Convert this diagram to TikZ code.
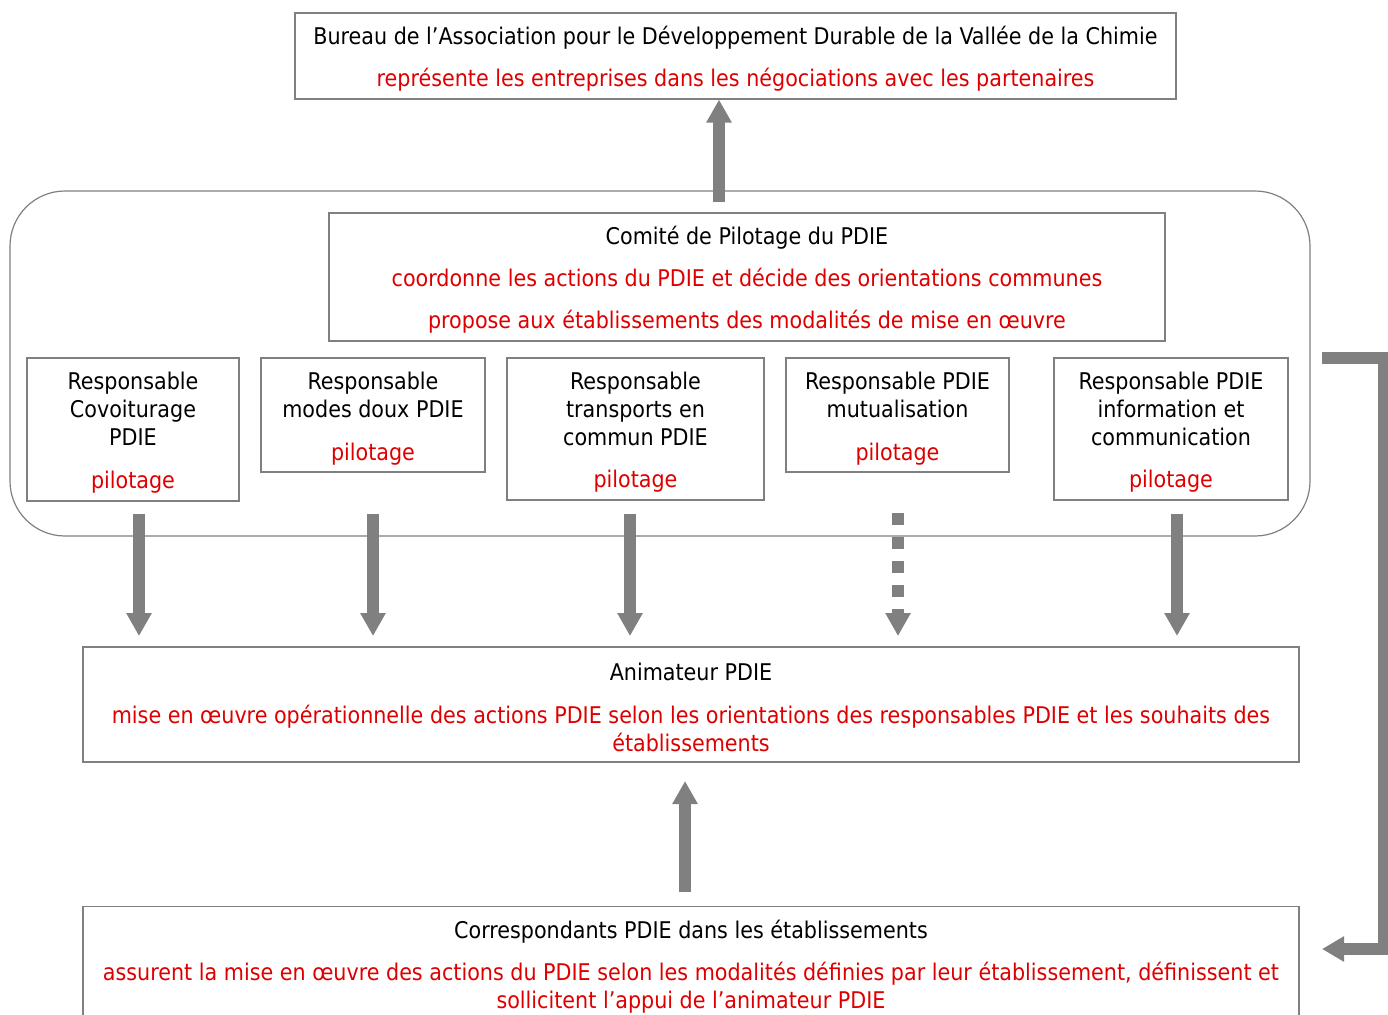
\documentclass[tikz,border=0pt]{standalone}
\usepackage{fontspec}
\setmainfont{DejaVu Sans Condensed}
\usetikzlibrary{arrows.meta}
\definecolor{boxgray}{RGB}{128,128,128}
\definecolor{arrgray}{RGB}{128,128,128}
\definecolor{txtred}{RGB}{222,0,0}
\tikzset{
  box/.style={draw=boxgray, line width=1.2pt, inner sep=0pt, align=center,
    font=\fontsize{23}{28}\selectfont},
  bigarrow/.style={draw=arrgray, line width=12pt,
    -{Triangle[width=24pt,length=23pt]}},
  dasharrow/.style={bigarrow, dash pattern=on 12pt off 12pt}
}
\newcommand{\rd}[1]{\textcolor{txtred}{#1}}
\newcommand{\up}{\rule{0pt}{24pt}}
\begin{document}
\begin{tikzpicture}[x=1pt,y=-1pt]
\useasboundingbox (0,0) rectangle (1388,1014);
\clip (0,0) rectangle (1388,1014);
% group frame
\draw[draw=boxgray, line width=1.2pt, rounded corners=55pt] (10,191) rectangle (1310,536);
\coordinate (grouptop) at (719,202);
% top box
\node[box, minimum width=881pt, minimum height=86pt] (bureau) at (735.5,56)
  {\up Bureau de l’Association pour le Développement Durable de la Vallée de la Chimie\\[14pt]
   \rd{représente les entreprises dans les négociations avec les partenaires}};
% comite
\node[box, minimum width=836pt, minimum height=128pt] (comite) at (747,277)
  {\up Comité de Pilotage du PDIE\\[14pt]
   \rd{coordonne les actions du PDIE et décide des orientations communes}\\[14pt]
   \rd{propose aux établissements des modalités de mise en œuvre}};
% responsables
\node[box, minimum width=212pt, minimum height=143pt] (r1) at (133,429.5)
  {\up Responsable\\Covoiturage\\PDIE\\[15pt]\rd{pilotage}};
\node[box, minimum width=224pt, minimum height=114pt] (r2) at (373,415)
  {\up Responsable\\modes doux PDIE\\[15pt]\rd{pilotage}};
\node[box, minimum width=257pt, minimum height=142pt] (r3) at (635.5,429)
  {\up Responsable\\transports en\\commun PDIE\\[14pt]\rd{pilotage}};
\node[box, minimum width=223pt, minimum height=114pt] (r4) at (897.5,415)
  {\up Responsable PDIE\\mutualisation\\[15pt]\rd{pilotage}};
\node[box, minimum width=234pt, minimum height=142pt] (r5) at (1171,429)
  {\up Responsable PDIE\\information et\\communication\\[14pt]\rd{pilotage}};
% animateur
\node[box, minimum width=1216pt, minimum height=115pt] (anim) at (691,704.5)
  {\up Animateur PDIE\\[15pt]
   \rd{mise en œuvre opérationnelle des actions PDIE selon les orientations des responsables PDIE et les souhaits des}\\
   \rd{établissements}};
% correspondants
\node[box, minimum width=1216pt, minimum height=114pt, anchor=north] (corr) at (691,906)
  {\up Correspondants PDIE dans les établissements\\[14pt]
   \rd{assurent la mise en œuvre des actions du PDIE selon les modalités définies par leur établissement, définissent et}\\
   \rd{sollicitent l’appui de l’animateur PDIE}};
% arrows
\draw[bigarrow] (grouptop) -- (bureau.south -| grouptop);
\coordinate (a1s) at (139,514); \coordinate (a1e) at (139,636);
\coordinate (a2s) at (373,514); \coordinate (a2e) at (373,636);
\coordinate (a3s) at (630,514); \coordinate (a3e) at (630,636);
\coordinate (a4s) at (898,513); \coordinate (a4e) at (898,636);
\coordinate (a5s) at (1177,514); \coordinate (a5e) at (1177,636);
\draw[bigarrow] (a1s) -- (a1e);
\draw[bigarrow] (a2s) -- (a2e);
\draw[bigarrow] (a3s) -- (a3e);
\draw[dasharrow] (a4s) -- (a4e);
\draw[bigarrow] (a5s) -- (a5e);
\coordinate (cup) at (685,892);
\draw[bigarrow] (cup) -- (685,781);
% feedback connector
\coordinate (fbs) at (1322,358);
\coordinate (fbe) at (1322,949);
\draw[bigarrow, -{Triangle[width=24pt,length=22pt]}, line cap=butt] (fbs) -- (1384,358) -- (1384,949) -- (fbe);
\end{tikzpicture}
\end{document}
